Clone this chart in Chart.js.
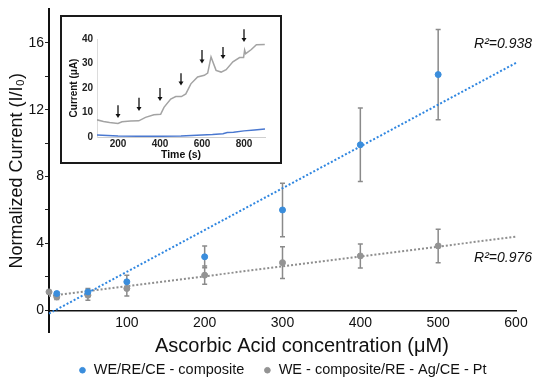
<!DOCTYPE html>
<html>
<head>
<meta charset="utf-8">
<script src="https://cdn.jsdelivr.net/npm/chart.js@4.4.1/dist/chart.umd.min.js"></script>
<style>
  body { margin: 0; background: #fff; }
  #wrap { position: relative; width: 536px; height: 384px; }
  #inset { position: absolute; left: 60px; top: 15px; width: 218px; height: 145px; border: 2px solid #1a1a1a; background: #fff; }
</style>
</head>
<body>
<div id="wrap">
  <canvas id="myChart" width="536" height="384"></canvas>
  <div id="inset"><canvas id="insetChart" width="218" height="145"></canvas></div>
</div>
<script>
// datos del grafico principal
const blueConc = [10, 50, 100, 200, 300, 400, 500];
const blueCurrent = [1.0, 1.1, 1.7, 3.2, 6.0, 9.9, 14.1];
const blueErr = [0.1, 0.2, 0.4, 0.65, 1.6, 2.2, 2.7];

const grayConc = [0, 10, 50, 100, 200, 300, 400, 500];
const grayCurrent = [1.1, 0.8, 0.9, 1.3, 2.1, 2.85, 3.25, 3.85];
const grayErr = [0, 0.15, 0.3, 0.45, 0.55, 0.95, 0.72, 1.0];

const fitConc = [0, 600];
const blueFit = [-0.2, 14.8];
const grayFit = [0.85, 4.4];

const seriesLabels = ['WE/RE/CE - composite', 'WE - composite/RE - Ag/CE - Pt'];
const r2Labels = ['R\u00B2=0.938', 'R\u00B2=0.976'];

const xTicks = [100, 200, 300, 400, 500, 600];
const yTicks = [0, 2, 4, 6, 8, 10, 12, 14, 16];
const yLabelTicks = [0, 4, 8, 12, 16];

// datos del recuadro (amperometria)
const insetTime = [100, 131, 160, 200, 219, 260, 299, 331, 371, 403, 419, 451, 475, 502, 523, 547, 579, 611, 627, 643, 667, 691, 715, 747, 779, 798, 803, 808, 835, 859, 899];
const insetGray = [7.0, 6.3, 5.9, 5.5, 6.2, 6.5, 6.6, 8.0, 9.1, 9.3, 12.1, 15.5, 16.5, 16.5, 17.6, 21.7, 24.5, 25.2, 26.1, 32.7, 27.2, 26.5, 27.5, 30.7, 32.4, 32.4, 35.5, 34.0, 35.7, 37.7, 37.8];
const insetBlueTime = [100, 200, 300, 400, 500, 550, 600, 650, 700, 720, 750, 800, 850, 900];
const insetBlue = [0.8, 0.4, 0.3, 0.3, 0.4, 0.6, 0.8, 1.0, 1.3, 1.8, 1.9, 2.5, 2.9, 3.3];
const arrowTime = [200, 300, 400, 500, 600, 700, 800];
const arrowTop = [13, 16, 20, 26, 35.5, 36.7, 44];
const arrowTip = [7.8, 10.6, 14.7, 21, 30, 31.8, 38.8];
const insetXTicks = [200, 400, 600, 800];

Chart.defaults.font.family = 'Arial, "Liberation Sans", sans-serif';

const toPts = (xs, ys) => xs.map((x, i) => ({x: x, y: ys[i]}));

//Barras de error
const errorBars = {
    id: 'errorBars',
    beforeDatasetsDraw(chart) {
        const ctx = chart.ctx;
        const y = chart.scales.y;
        [[0, blueErr], [1, grayErr]].forEach(([i, errs]) => {
            const meta = chart.getDatasetMeta(i);
            meta.data.forEach((pt, j) => {
                const e = errs[j];
                if (!e) return;
                const v = chart.data.datasets[i].data[j].y;
                const top = y.getPixelForValue(v + e);
                const bot = y.getPixelForValue(v - e);
                ctx.save();
                ctx.strokeStyle = '#8a8a8a';
                ctx.lineWidth = 1.5;
                ctx.beginPath();
                ctx.moveTo(pt.x, top); ctx.lineTo(pt.x, bot);
                ctx.moveTo(pt.x - 2.5, top); ctx.lineTo(pt.x + 2.5, top);
                ctx.moveTo(pt.x - 2.5, bot); ctx.lineTo(pt.x + 2.5, bot);
                ctx.stroke();
                ctx.restore();
            });
        });
    }
};

//Etiquetas R2
const r2Text = {
    id: 'r2Text',
    afterDraw(chart) {
        const ctx = chart.ctx;
        const y = chart.scales.y;
        const right = chart.chartArea.right + 16;
        ctx.save();
        ctx.font = 'italic 14px Arial, "Liberation Sans", sans-serif';
        ctx.fillStyle = '#111';
        ctx.textAlign = 'right';
        ctx.textBaseline = 'middle';
        ctx.fillText(r2Labels[0], right, y.getPixelForValue(15.9));
        ctx.fillText(r2Labels[1], right, y.getPixelForValue(3.1));
        ctx.restore();
    }
};

const data = {
    datasets: [{
        type: 'scatter',
        label: seriesLabels[0],
        data: toPts(blueConc, blueCurrent),
        backgroundColor: '#3a8ddc',
        borderColor: '#3a8ddc',
        pointRadius: 3,
        clip: false
    }, {
        type: 'scatter',
        label: seriesLabels[1],
        data: toPts(grayConc, grayCurrent),
        backgroundColor: '#939393',
        borderColor: '#939393',
        pointRadius: 3,
        clip: false
    }, {
        type: 'line',
        label: 'fit1',
        data: toPts(fitConc, blueFit),
        borderColor: '#2f86e0',
        borderWidth: 2,
        borderDash: [2, 2],
        pointRadius: 0,
        clip: false
    }, {
        type: 'line',
        label: 'fit2',
        data: toPts(fitConc, grayFit),
        borderColor: '#8e8e8e',
        borderWidth: 2,
        borderDash: [2, 2],
        pointRadius: 0,
        clip: false
    }]
};

const options = {
    responsive: false,
    animation: false,
    layout: { padding: { top: 5, right: 20, left: 0, bottom: 0 } },
    plugins: {
        tooltip: { enabled: false },
        legend: {
            position: 'bottom',
            fullSize: false,
            maxHeight: 52,
            title: { display: true, text: ' ', font: { size: 10, lineHeight: 1 }, padding: { top: 1, bottom: 1 } },
            labels: {
                usePointStyle: true,
                pointStyle: 'circle',
                boxWidth: 8,
                boxHeight: 4,
                padding: 19,
                color: '#111',
                font: { size: 14.5 },
                filter: item => item.datasetIndex < 2
            }
        }
    },
    scales: {
        x: {
            type: 'linear',
            position: { y: 0 },
            min: 0,
            max: 600,
            afterBuildTicks: s => { s.ticks = xTicks.map(v => ({ value: v })); },
            afterFit: s => { s.height = 48; },
            grid: { drawOnChartArea: false, drawTicks: false },
            border: { color: '#111', width: 1.5 },
            ticks: { font: { size: 14 }, color: '#111', padding: 4, maxRotation: 0 },
            title: { display: true, text: '       Ascorbic Acid concentration (\u03BCM)', color: '#111', font: { size: 20 }, padding: { top: 0, bottom: 0 } }
        },
        y: {
            min: -1.3,
            max: 18,
            afterBuildTicks: s => { s.ticks = yTicks.map(v => ({ value: v })); },
            afterFit: s => { s.width = 49; },
            grid: { drawOnChartArea: false, drawTicks: true, tickLength: 4, color: '#222' },
            border: { color: '#111', width: 2 },
            ticks: { font: { size: 14 }, color: '#111', padding: 1, callback: v => yLabelTicks.includes(v) ? v : '' },
            title: { display: true, text: 'Normalized Current (I/I\u2080)', color: '#111', font: { size: 18 }, padding: { top: 6, bottom: 0 } }
        }
    }
};

const myChart = new Chart(document.getElementById('myChart').getContext('2d'), {
    data,
    options,
    plugins: [errorBars, r2Text]
});

//Flechas del recuadro
const arrows = {
    id: 'arrows',
    afterDatasetsDraw(chart) {
        const ctx = chart.ctx;
        const x = chart.scales.x, y = chart.scales.y;
        ctx.save();
        ctx.strokeStyle = '#111';
        ctx.fillStyle = '#111';
        ctx.lineWidth = 1.3;
        arrowTime.forEach((t, i) => {
            const px = x.getPixelForValue(t);
            const top = y.getPixelForValue(arrowTop[i]);
            const tip = y.getPixelForValue(arrowTip[i]);
            ctx.beginPath();
            ctx.moveTo(px, top);
            ctx.lineTo(px, tip - 3);
            ctx.stroke();
            ctx.beginPath();
            ctx.moveTo(px - 2.5, tip - 4);
            ctx.lineTo(px + 2.5, tip - 4);
            ctx.lineTo(px, tip);
            ctx.closePath();
            ctx.fill();
        });
        ctx.restore();
    }
};

const insetChart = new Chart(document.getElementById('insetChart').getContext('2d'), {
    type: 'line',
    data: {
        datasets: [{
            data: toPts(insetTime, insetGray),
            borderColor: '#a3a3a3',
            borderWidth: 1.5,
            pointRadius: 0
        }, {
            data: toPts(insetBlueTime, insetBlue),
            borderColor: '#4a78d0',
            borderWidth: 1.5,
            pointRadius: 0
        }]
    },
    options: {
        responsive: false,
        animation: false,
        layout: { padding: { top: 22, right: 15, left: 0, bottom: 0 } },
        plugins: { legend: { display: false }, tooltip: { enabled: false } },
        scales: {
            x: {
                type: 'linear',
                min: 100,
                max: 900,
                afterBuildTicks: s => { s.ticks = insetXTicks.map(v => ({ value: v })); },
                afterFit: s => { s.height = 25; },
                grid: { drawOnChartArea: false, drawTicks: false },
                border: { color: '#cfcfcf', width: 1 },
                ticks: { font: { size: 10, weight: 'bold' }, color: '#222', padding: 1, maxRotation: 0 },
                title: { display: true, text: 'Time (s)', color: '#111', font: { size: 10.5, weight: 'bold', lineHeight: 1 }, padding: { top: 0, bottom: 2 } }
            },
            y: {
                min: 0,
                max: 40,
                ticks: { stepSize: 10, font: { size: 10, weight: 'bold' }, color: '#222', padding: 4 },
                afterFit: s => { s.width = 35; },
                grid: { drawOnChartArea: false, drawTicks: false },
                border: { color: '#dcdcdc', width: 1 },
                title: { display: true, text: 'Current (\u03BCA)', color: '#111', font: { size: 10, weight: 'bold', lineHeight: 1 }, padding: { top: 7, bottom: 0 } }
            }
        }
    },
    plugins: [arrows]
});
</script>
</body>
</html>
